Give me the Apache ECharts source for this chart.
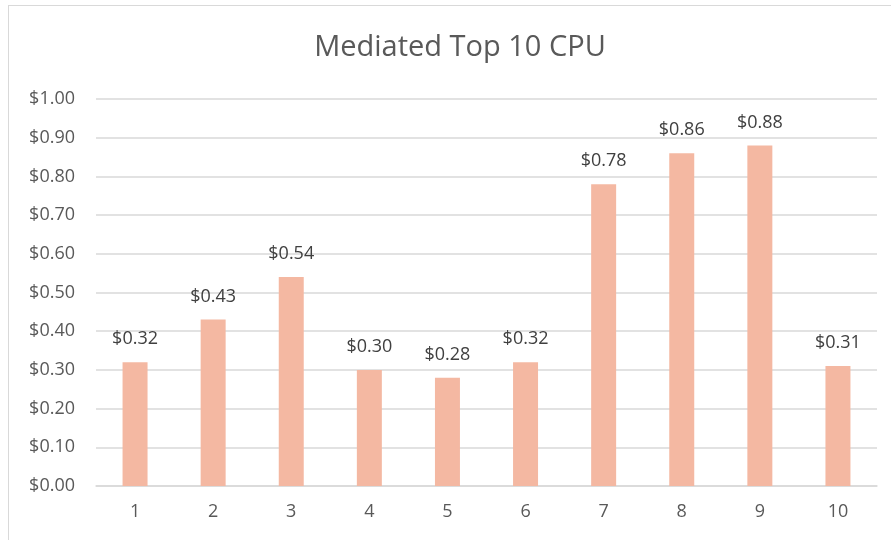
<!DOCTYPE html>
<html><head><meta charset="utf-8">
<script src="https://cdn.jsdelivr.net/npm/echarts@6/dist/echarts.min.js"></script>
<style>html,body{margin:0;padding:0;background:#fff}#c{width:891px;height:540px}
#frame{position:absolute;left:8px;top:5px;width:900px;height:600px;border:1px solid #d9d9d9;pointer-events:none}</style>
</head><body><div id="c"></div><div id="frame"></div>
<script>
const categories = ['1','2','3','4','5','6','7','8','9','10'];
const values = [0.32, 0.43, 0.54, 0.30, 0.28, 0.32, 0.78, 0.86, 0.88, 0.31];
const titleText = 'Mediated Top 10 CPU';
const chart = echarts.init(document.getElementById('c'));
const font = '"Open Sans", "Liberation Sans", sans-serif';
chart.setOption({
  animation:false,
  title:{text:titleText,left:455,top:28,textAlign:'center',textStyle:{fontFamily:font,fontSize:29,fontWeight:'normal',color:'#595959'}},
  grid:{left:96,right:14,top:99,bottom:54,containLabel:false},
  xAxis:{type:'category',data:categories,
    axisLine:{lineStyle:{color:'#d9d9d9',width:1.5}},axisTick:{show:false},
    axisLabel:{color:'#595959',fontFamily:font,fontSize:18,margin:17}},
  yAxis:{type:'value',min:0,max:1,interval:0.1,
    axisLine:{show:false},axisTick:{show:false},
    splitLine:{lineStyle:{color:'#d9d9d9',width:1.5}},
    axisLabel:{color:'#595959',fontFamily:font,fontSize:18,margin:21,formatter:v=>'$'+v.toFixed(2)}},
  series:[{type:'bar',data:values,barWidth:'32%',itemStyle:{color:'#F4B8A2'},
    label:{show:true,position:'top',distance:14,color:'#404040',fontFamily:font,fontSize:18,formatter:p=>'$'+p.value.toFixed(2)}}]
});
</script></body></html>
